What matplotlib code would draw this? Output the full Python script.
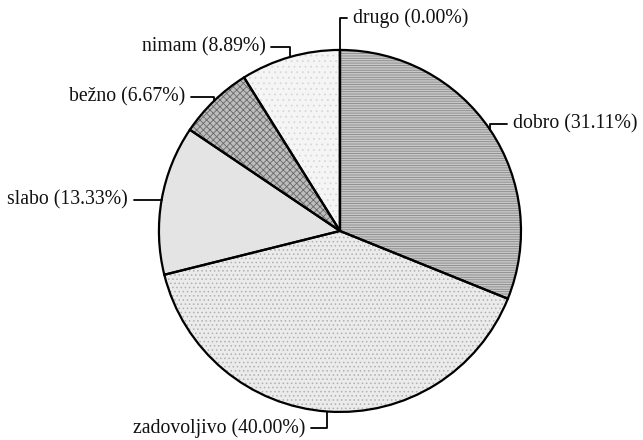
import matplotlib
matplotlib.use("Agg")
import numpy as np
import matplotlib.pyplot as plt

# podatki (v smeri urnega kazalca od vrha)
labels = ["drugo", "dobro", "zadovoljivo", "slabo", "bežno", "nimam"]
percents = [0.00, 31.11, 40.00, 13.33, 6.67, 8.89]

# videz rezin
face_colors = ["#ffffff", "#c8c8c8", "#ebebeb", "#e4e4e4", "#bdbdbd", "#f5f5f5"]
hatch_colors = ["#ffffff", "#888888", "#b0b0b0", "#d0d0d0", "#6a6a6a", "#d8d8d8"]
hatches = ["", "-------", "....", "", "xxxxx", "..."]

# položaj besedila (x, y, poravnava) v enotah polmera
label_pos = [(0.07, 1.177, "left"), (0.955, 0.592, "left"), (-0.19, -1.088, "right"),
             (-1.17, 0.171, "right"), (-0.855, 0.740, "right"), (-0.41, 1.017, "right")]

plt.rcParams["font.family"] = ["Liberation Serif", "DejaVu Serif"]
plt.rcParams["hatch.linewidth"] = 0.6

fig = plt.figure(figsize=(6.43, 4.40), dpi=100)
ax = fig.add_axes([0, 0, 1, 1])
ax.axis("off")

# najprej polnila z vzorcem, nato črni robovi
wedges, _ = ax.pie(percents, startangle=90, counterclock=False, radius=1.0,
                   colors=face_colors, wedgeprops=dict(linewidth=0))
for w, h, hc in zip(wedges, hatches, hatch_colors):
    w.set_hatch(h)
    w.set_edgecolor(hc)
    w.set_linewidth(0)
ax.pie(percents, startangle=90, counterclock=False, radius=1.0,
       wedgeprops=dict(fill=False, edgecolor="black", linewidth=1.6))
ax.set_xlim(-1.878, 1.674)
ax.set_ylim(-1.155, 1.276)
ax.set_aspect("auto")

for w, lab, p, (tx, ty, ha) in zip(wedges, labels, percents, label_pos):
    mid = np.deg2rad((w.theta1 + w.theta2) / 2)
    px, py = np.cos(mid), np.sin(mid)
    relx = 0 if ha == "left" else 1
    ax.annotate(f"{lab} ({p:.2f}%)", xy=(px, py), xytext=(tx, ty),
                ha=ha, va="center", fontsize=14.2, color="#111111",
                arrowprops=dict(arrowstyle="-", color="black", lw=1.3,
                                relpos=(relx, 0.5), shrinkA=2, shrinkB=0,
                                connectionstyle="angle,angleA=0,angleB=90,rad=0"))

fig.savefig("out.png", dpi=100, facecolor="white")
